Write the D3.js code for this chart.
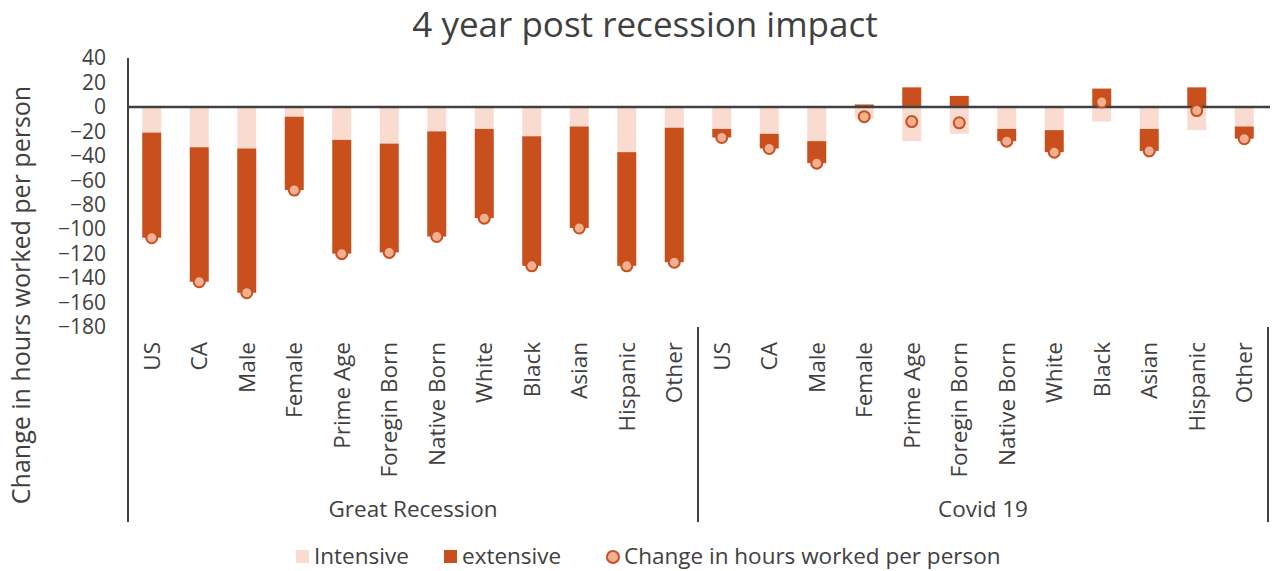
<!DOCTYPE html>
<html>
<head>
<meta charset="utf-8">
<script src="https://cdn.jsdelivr.net/npm/d3@7"></script>
<style>
  html, body { margin: 0; padding: 0; background: #fff; }
  svg { display: block; font-family: "Open Sans", Lato, sans-serif; }
</style>
</head>
<body>
<svg id="chart" width="1277" height="571"></svg>
<script>
// Sub-groups shown within each period
const categories = ["US", "CA", "Male", "Female", "Prime Age", "Foregin Born",
  "Native Born", "White", "Black", "Asian", "Hispanic", "Other"];
const periods = ["Great Recession", "Covid 19"];

// Hours worked per person, split into intensive and extensive margins
const intensiveGreatRecession = [-21, -33, -34, -8, -27, -30, -20, -18, -24, -16, -37, -17];
const extensiveGreatRecession = [-86, -110, -118, -60, -93, -89, -86, -73, -106, -83, -93, -110];
const changeGreatRecession = [-107, -143, -152, -68, -120, -119, -106, -91, -130, -99, -130, -127];

const intensiveCovid = [-18, -22, -28, -10, -28, -22, -18, -19, -12, -18, -19, -16];
const extensiveCovid = [-7, -12, -18, 2, 16, 9, -10, -18, 15, -18, 16, -10];
const changeCovid = [-25, -34, -46, -8, -12, -13, -28, -37, 4, -36, -3, -26];

const yTicks = [40, 20, 0, -20, -40, -60, -80, -100, -120, -140, -160, -180];

const titleText = "4 year post recession impact";
const yTitleText = "Change in hours worked per person";
const legendLabels = ["Intensive", "extensive", "Change in hours worked per person"];

const colors = { intensive: "#FADBCF", extensive: "#C9501C", dot: "#F1B092", text: "#404040", axis: "#404040" };

// One row per period / sub-group
const intensiveAll = [intensiveGreatRecession, intensiveCovid];
const extensiveAll = [extensiveGreatRecession, extensiveCovid];
const changeAll = [changeGreatRecession, changeCovid];
const rows = [];
periods.forEach((p, pi) => {
  categories.forEach((c, ci) => {
    rows.push({ key: p + "|" + c, period: p, category: c,
      intensive: intensiveAll[pi][ci], extensive: extensiveAll[pi][ci], change: changeAll[pi][ci] });
  });
});

const svg = d3.select("#chart");
const plotLeft = 128, plotRight = 1268, plotTop = 58, plotBottom = 327, axisBottom = 522;
const labelSize = 22.5, tickSize = 21;

const x = d3.scaleBand().domain(rows.map(d => d.key)).range([plotLeft, plotRight]).paddingInner(0.6).paddingOuter(0.3);
const y = d3.scaleLinear().domain([-180, 40]).range([plotBottom, plotTop]);

// Stacked bars: intensive nearest zero, extensive beyond (diverging)
const series = d3.stack().keys(["intensive", "extensive"]).offset(d3.stackOffsetDiverging)(rows);

svg.append("g").selectAll("g").data(series).join("g")
  .attr("fill", s => colors[s.key])
  .selectAll("rect").data(s => s).join("rect")
  .attr("x", d => x(d.data.key))
  .attr("width", x.bandwidth())
  .attr("y", d => y(Math.max(d[0], d[1])))
  .attr("height", d => Math.abs(y(d[0]) - y(d[1])));

// Zero line
svg.append("line")
  .attr("x1", plotLeft).attr("x2", plotRight + 2)
  .attr("y1", y(0)).attr("y2", y(0))
  .attr("stroke", colors.axis).attr("stroke-width", 2.5);

// Total change markers
svg.append("g").selectAll("circle").data(rows).join("circle")
  .attr("cx", d => x(d.key) + x.bandwidth() / 2)
  .attr("cy", d => y(d.change))
  .attr("r", 5.5)
  .attr("fill", colors.dot)
  .attr("stroke", colors.extensive)
  .attr("stroke-width", 2);

// Value axis
const yAxis = d3.axisLeft(y).tickValues(yTicks).tickSize(0).tickPadding(22);
const yg = svg.append("g").attr("transform", `translate(${plotLeft},0)`).call(yAxis);
yg.select(".domain").remove();
yg.selectAll("text").attr("fill", colors.text).attr("font-size", tickSize)
  .attr("font-family", "'Open Sans', sans-serif");

svg.append("line")
  .attr("x1", plotLeft).attr("x2", plotLeft).attr("y1", plotTop).attr("y2", axisBottom)
  .attr("stroke", colors.axis).attr("stroke-width", 2);

// Category axis group separators
const firstKeys = periods.map(p => rows.find(r => r.period === p).key);
const lastKeys = periods.map(p => rows.filter(r => r.period === p).pop().key);
const midSplit = (x(lastKeys[0]) + x.bandwidth() + x(firstKeys[1])) / 2;
const boundaries = [plotLeft, midSplit, plotRight];
svg.append("g").selectAll("line").data(boundaries.slice(1)).join("line")
  .attr("x1", d => d).attr("x2", d => d)
  .attr("y1", plotBottom).attr("y2", axisBottom)
  .attr("stroke", colors.axis).attr("stroke-width", 2);

// Category labels
svg.append("g").selectAll("text").data(rows).join("text")
  .attr("transform", d => `translate(${x(d.key) + x.bandwidth() / 2},342) rotate(-90)`)
  .attr("text-anchor", "end")
  .attr("dy", "0.36em")
  .attr("fill", colors.text)
  .attr("font-size", labelSize)
  .text(d => d.category);

// Period labels
svg.append("g").selectAll("text").data(periods).join("text")
  .attr("x", (d, i) => (boundaries[i] + boundaries[i + 1]) / 2)
  .attr("y", 517)
  .attr("text-anchor", "middle")
  .attr("fill", colors.text)
  .attr("font-size", labelSize)
  .text(d => d);

// Title
svg.append("text")
  .attr("x", 645).attr("y", 37)
  .attr("text-anchor", "middle")
  .attr("fill", colors.text)
  .attr("font-size", 35)
  .text(titleText);

// Value axis title
svg.append("text")
  .attr("transform", "translate(30,295) rotate(-90)")
  .attr("text-anchor", "middle")
  .attr("fill", colors.text)
  .attr("font-size", 25)
  .text(yTitleText);

// Legend
const legend = svg.append("g").attr("font-size", labelSize).attr("fill", colors.text);
const items = [
  { label: legendLabels[0], x: 296, type: "rect", fill: colors.intensive },
  { label: legendLabels[1], x: 444, type: "rect", fill: colors.extensive },
  { label: legendLabels[2], x: 606, type: "circle", fill: colors.dot }
];
items.forEach(it => {
  if (it.type === "rect") {
    legend.append("rect").attr("x", it.x).attr("y", 550).attr("width", 13).attr("height", 13).attr("fill", it.fill);
  } else {
    legend.append("circle").attr("cx", it.x + 7).attr("cy", 557).attr("r", 6)
      .attr("fill", it.fill).attr("stroke", colors.extensive).attr("stroke-width", 2);
  }
  legend.append("text").attr("x", it.x + 18).attr("y", 564)
    .attr("fill", colors.text).text(it.label);
});
</script>
</body>
</html>
